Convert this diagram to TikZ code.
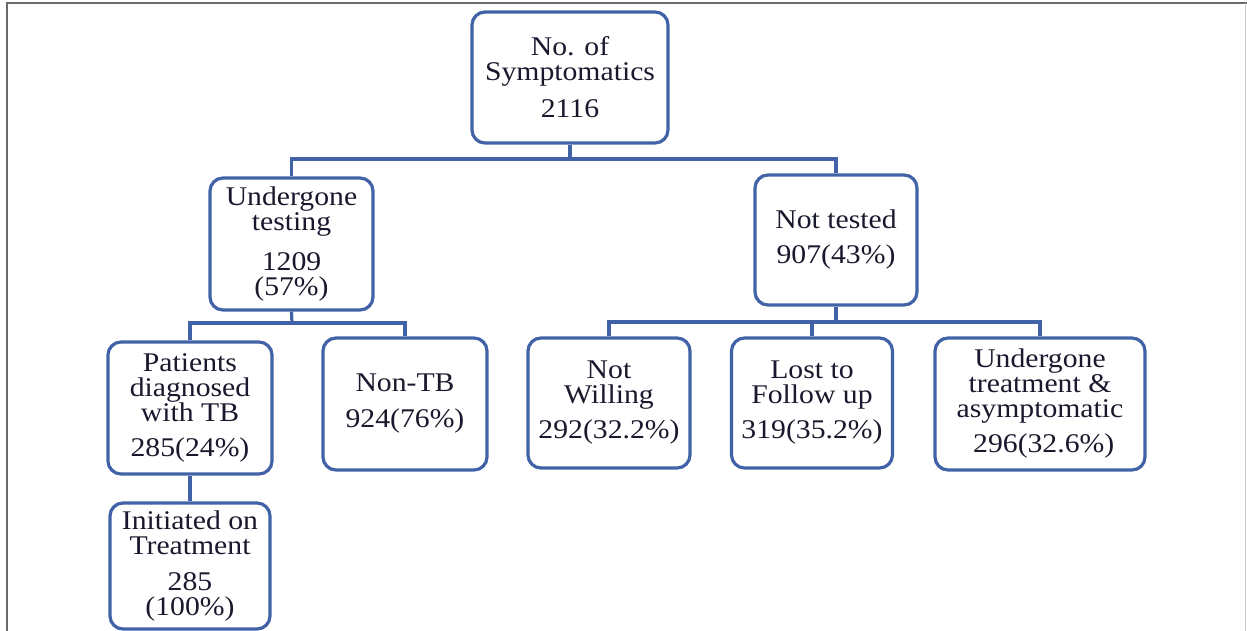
\documentclass[tikz,border=0pt]{standalone}
\usepackage{fontspec}
\setmainfont{Liberation Serif}[FakeStretch=1.1]
\definecolor{boxblue}{RGB}{66,98,168}
\definecolor{txt}{RGB}{25,25,45}
\definecolor{framegray}{RGB}{105,105,105}
\begin{document}
\begin{tikzpicture}[x=1pt,y=-1pt,
  box/.style={draw=boxblue, line width=3.2pt, rounded corners=13pt, align=center,
    inner sep=0pt, text=txt, font=\fontsize{27}{25}\selectfont, fill=white},
  link/.style={draw=boxblue, line width=3.2pt}]
\useasboundingbox (0,0) rectangle (1247,631);
\draw[framegray, line width=2.2pt] (7,631) -- (7,3) -- (1247,3);
\draw[gray!45, line width=1pt] (1245.5,3) -- (1245.5,631);

\node[box, minimum width=196pt, minimum height=131pt] (root) at (570,77.5)
  {No. of\\Symptomatics\\[12pt]2116};
\node[box, minimum width=163pt, minimum height=132pt] (ut) at (291.5,244)
  {Undergone\\testing\\[15pt]1209\\(57\%)};
\node[box, minimum width=162pt, minimum height=130pt] (nt) at (836,240)
  {Not tested\\[10pt]907(43\%)};
\node[box, minimum width=164pt, minimum height=132pt] (pt) at (190,408)
  {Patients\\diagnosed\\with TB\\[10pt]285(24\%)};
\node[box, minimum width=164pt, minimum height=132pt] (ntb) at (405,404)
  {Non-TB\\[11pt]924(76\%)};
\node[box, minimum width=162pt, minimum height=130pt] (nw) at (609,403)
  {Not\\Willing\\[10pt]292(32.2\%)};
\node[box, minimum width=161pt, minimum height=130pt] (lf) at (812,403)
  {Lost to\\Follow up\\[10pt]319(35.2\%)};
\node[box, minimum width=210pt, minimum height=132pt] (utr) at (1040,404)
  {Undergone\\treatment \&\\asymptomatic\\[10pt]\ 296(32.6\%)};
\node[box, minimum width=160pt, minimum height=126pt] (init) at (190,566)
  {Initiated on\\Treatment\\[11pt]285\\(100\%)};

\coordinate (j1) at (570,159);
\coordinate (j2) at (292,323);
\coordinate (j3) at (836,322);

\draw[link] (root.south) -- (j1);
\draw[link] (ut.north) |- (j1) -| (nt.north);
\draw[link] (ut.south) -- (j2);
\draw[link] (pt.north) |- (j2) -| (ntb.north);
\draw[link] (nt.south) -- (j3);
\draw[link] (nw.north) |- (j3) -| (utr.north);
\draw[link] (lf.north) -- (lf.north |- j3);
\draw[link] (pt.south) -- (init.north);
\end{tikzpicture}
\end{document}
